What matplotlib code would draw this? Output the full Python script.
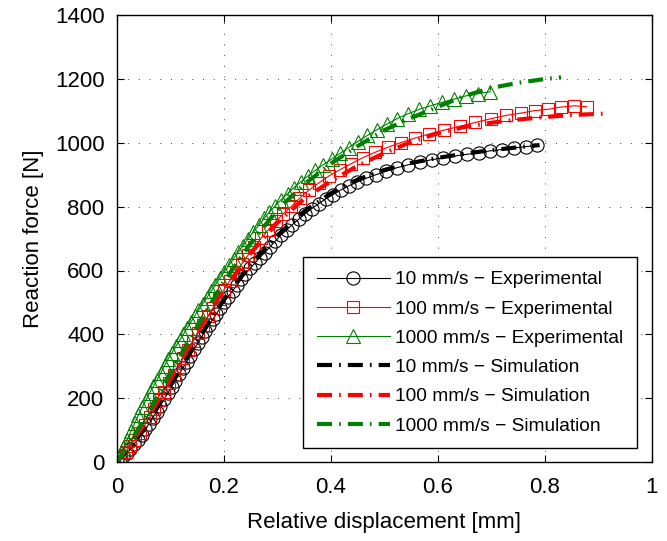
import numpy as np
import matplotlib
matplotlib.use('Agg')
import matplotlib.pyplot as plt

plt.rcParams['font.family'] = ['Liberation Sans', 'DejaVu Sans']

x_exp_10 = [0.000, 0.006, 0.012, 0.018, 0.025, 0.032, 0.039, 0.046, 0.053, 0.060,
            0.067, 0.074, 0.081, 0.088, 0.095, 0.102, 0.109, 0.116, 0.123, 0.130,
            0.137, 0.144, 0.151, 0.158, 0.165, 0.172, 0.179, 0.186, 0.193, 0.200,
            0.208, 0.216, 0.224, 0.232, 0.240, 0.249, 0.258, 0.267, 0.276, 0.286,
            0.296, 0.306, 0.317, 0.328, 0.340, 0.352, 0.364, 0.377, 0.390, 0.404,
            0.418, 0.433, 0.449, 0.466, 0.484, 0.503, 0.523, 0.544, 0.566, 0.588,
            0.610, 0.632, 0.654, 0.676, 0.698, 0.720, 0.742, 0.764, 0.786]
y_exp_10 = [0, 8, 18, 27, 40, 56, 70, 86, 103, 120,
            139, 158, 177, 196, 216, 236, 255, 275, 294, 314,
            333, 353, 372, 391, 410, 429, 447, 465, 482, 500,
            518, 536, 554, 572, 589, 607, 624, 640, 656, 674,
            692, 710, 727, 744, 761, 778, 794, 809, 824, 838,
            852, 865, 877, 889, 900, 911, 922, 931, 940, 947,
            953, 959, 964, 969, 975, 979, 984, 988, 992]

x_exp_100 = [0.000, 0.008, 0.016, 0.025, 0.034, 0.043, 0.052, 0.061, 0.070, 0.079,
             0.088, 0.097, 0.106, 0.115, 0.124, 0.133, 0.142, 0.151, 0.160, 0.170,
             0.180, 0.190, 0.200, 0.211, 0.222, 0.233, 0.245, 0.257, 0.270, 0.283,
             0.297, 0.311, 0.326, 0.342, 0.359, 0.377, 0.396, 0.416, 0.437, 0.459,
             0.482, 0.506, 0.531, 0.557, 0.584, 0.612, 0.641, 0.670, 0.700, 0.728,
             0.755, 0.781, 0.806, 0.830, 0.855, 0.878]
y_exp_100 = [0, 14, 30, 50, 70, 92, 116, 141, 167, 193,
             219, 246, 272, 299, 326, 352, 378, 403, 428, 456,
             484, 512, 540, 568, 594, 620, 648, 674, 702, 728,
             754, 778, 801, 827, 852, 874, 896, 915, 934, 953,
             970, 986, 1001, 1015, 1028, 1040, 1052, 1064, 1076, 1086,
             1093, 1101, 1105, 1112, 1116, 1113]

x_exp_1000 = [0.000, 0.006, 0.012, 0.019, 0.026, 0.033, 0.040, 0.047, 0.054, 0.061,
              0.068, 0.075, 0.082, 0.089, 0.096, 0.103, 0.110, 0.117, 0.124, 0.131,
              0.138, 0.145, 0.152, 0.160, 0.168, 0.176, 0.184, 0.192, 0.200, 0.209,
              0.218, 0.227, 0.236, 0.245, 0.255, 0.265, 0.275, 0.285, 0.296, 0.307,
              0.319, 0.331, 0.344, 0.357, 0.371, 0.386, 0.401, 0.417, 0.433, 0.450,
              0.468, 0.486, 0.505, 0.524, 0.544, 0.565, 0.586, 0.608, 0.630, 0.652,
              0.674, 0.698]
y_exp_1000 = [0, 22, 44, 70, 96, 121, 147, 171, 194, 216,
              237, 258, 279, 302, 324, 343, 362, 381, 400, 419,
              438, 457, 475, 495, 515, 535, 555, 575, 595, 616,
              637, 658, 678, 699, 721, 742, 763, 783, 803, 822,
              841, 860, 878, 896, 914, 932, 949, 967, 985, 1004,
              1023, 1041, 1059, 1076, 1091, 1105, 1116, 1127, 1137, 1147,
              1154, 1160]

# simulation data
x_sim_10 = [0, 0.05, 0.1, 0.15, 0.2, 0.25, 0.3, 0.35, 0.4, 0.45, 0.5, 0.55, 0.6,
            0.65, 0.7, 0.75, 0.79]
y_sim_10 = [0, 100, 240, 380, 510, 620, 710, 785, 842, 885, 915, 937, 953,
            966, 977, 986, 993]

x_sim_100 = [0, 0.05, 0.1, 0.15, 0.2, 0.25, 0.3, 0.35, 0.4, 0.45, 0.5, 0.55, 0.6,
             0.65, 0.7, 0.75, 0.8, 0.85, 0.92]
y_sim_100 = [0, 115, 260, 405, 540, 655, 750, 825, 880, 928, 968, 1003, 1030,
             1050, 1063, 1073, 1081, 1087, 1092]

x_sim_1000 = [0, 0.05, 0.1, 0.15, 0.2, 0.25, 0.3, 0.35, 0.4, 0.45, 0.5, 0.55, 0.6,
              0.65, 0.7, 0.75, 0.8, 0.83]
y_sim_1000 = [0, 130, 280, 425, 565, 685, 790, 870, 935, 990, 1040, 1078, 1113,
              1147, 1172, 1188, 1200, 1205]

labels_exp = ['10 mm/s \u2212 Experimental', '100 mm/s \u2212 Experimental',
              '1000 mm/s \u2212 Experimental']
labels_sim = ['10 mm/s \u2212 Simulation', '100 mm/s \u2212 Simulation',
              '1000 mm/s \u2212 Simulation']

green = '#008000'
dash = (3.6, 1.7, 0.4, 1.7)

fig = plt.figure(figsize=(6.67, 5.41), dpi=100)
ax = fig.add_axes([0.1754, 0.146, 0.802, 0.826])

ax.plot(x_exp_10, y_exp_10, '-', color='k', lw=0.8, marker='o', ms=9.5,
        mfc='none', mew=0.8, label=labels_exp[0])
ax.plot(x_exp_100, y_exp_100, '-', color='r', lw=0.8, marker='s', ms=8.5,
        mfc='none', mew=0.8, label=labels_exp[1])
ax.plot(x_exp_1000, y_exp_1000, '-', color=green, lw=0.8, marker='^', ms=10.5,
        mfc='none', mew=0.8, label=labels_exp[2])

ax.plot(x_sim_10, y_sim_10, color='k', lw=3, dashes=dash, label=labels_sim[0])
ax.plot(x_sim_100, y_sim_100, color='r', lw=3, dashes=dash, label=labels_sim[1])
ax.plot(x_sim_1000, y_sim_1000, color=green, lw=3, dashes=dash, label=labels_sim[2])

ax.set_xlim(0, 1)
ax.set_ylim(0, 1400)
ax.set_xticks([0, 0.2, 0.4, 0.6, 0.8, 1])
ax.set_xticklabels(['0', '0.2', '0.4', '0.6', '0.8', '1'])
ax.set_yticks(np.arange(0, 1401, 200))
ax.tick_params(direction='in', top=True, right=True, labelsize=16, length=5)
ax.tick_params(axis='x', pad=11)
ax.tick_params(axis='y', pad=9)
ax.grid(True, linestyle=(0, (1, 10)), color='#444444', lw=0.7)
for s in ax.spines.values():
    s.set_linewidth(1.0)

ax.set_xlabel('Relative displacement [mm]', fontsize=16, labelpad=10)
ax.set_ylabel('Reaction force [N]', fontsize=16, labelpad=8)

leg = ax.legend(loc='lower right', bbox_to_anchor=(0.972, 0.031), fontsize=13.8,
                fancybox=False, edgecolor='k', framealpha=1, handlelength=3.8,
                labelspacing=0.62, borderpad=0.7, handletextpad=0.3,
                borderaxespad=0)
leg.get_frame().set_linewidth(1.0)

fig.savefig('out.png', dpi=100)
